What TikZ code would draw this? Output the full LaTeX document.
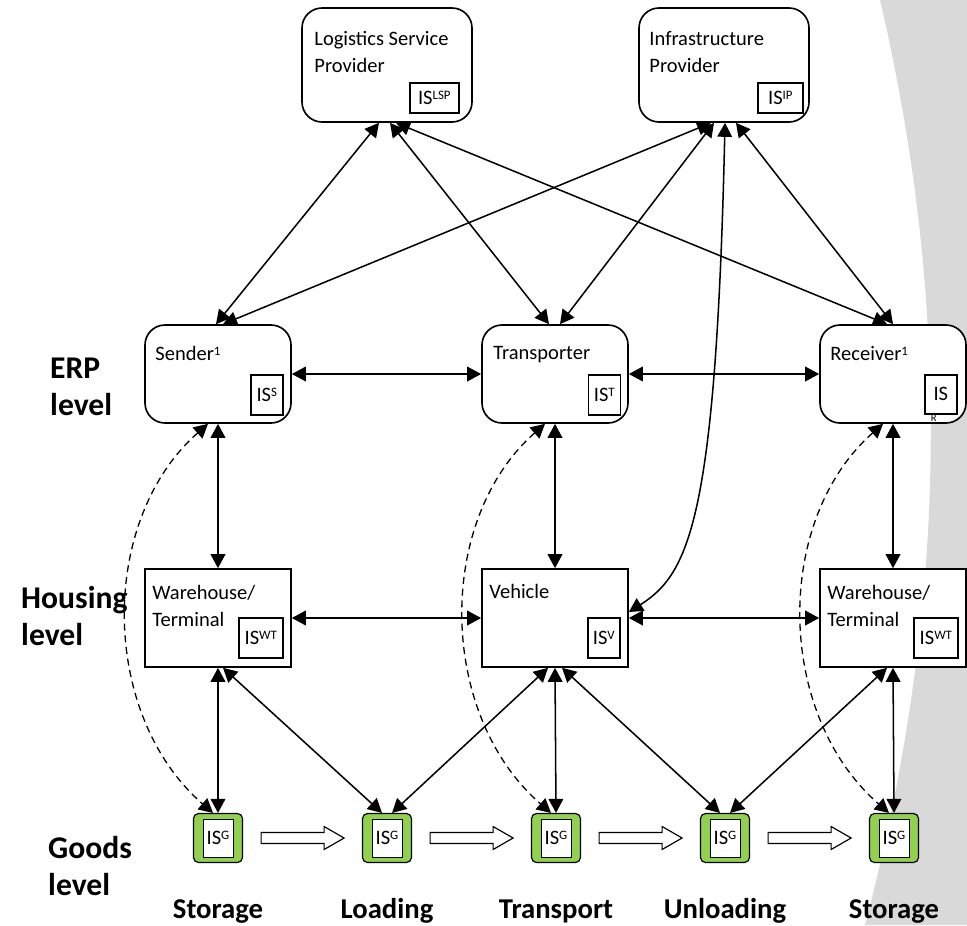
\documentclass[tikz,border=0pt]{standalone}
\usepackage{fontspec}
\setmainfont{Carlito}
\usetikzlibrary{arrows.meta,calc}
\definecolor{goodsgreen}{RGB}{146,208,80}
\definecolor{bggray}{RGB}{217,217,217}
\newcommand{\up}[1]{\raisebox{0.26em}{\fontsize{11}{12}\selectfont #1}}

\tikzset{
  roundbox/.style={draw,line width=1.4pt,rounded corners=6mm,fill=white,
    minimum width=43.8mm,minimum height=29.4mm,inner sep=0},
  topbox/.style={roundbox,minimum width=51mm,minimum height=34.2mm},
  flatbox/.style={draw,line width=1.4pt,fill=white,
    minimum width=43.8mm,minimum height=29.4mm,inner sep=0},
  boxtext/.style={anchor=north west,inner sep=0,align=left,
    font=\fontsize{17.5}{23}\selectfont},
  isbox/.style={draw,line width=1.2pt,fill=white,inner sep=0,
    font=\fontsize{17.5}{21}\selectfont},
  goods/.style={draw,line width=1pt,fill=goodsgreen,rounded corners=1.5mm,
    minimum width=14.7mm,minimum height=14.7mm,inner sep=0},
  goodsis/.style={isbox,line width=0.8pt,minimum width=9mm,minimum height=11.4mm},
  link/.style={{Triangle[length=4.2mm,width=4.4mm]}-{Triangle[length=4.2mm,width=4.4mm]},
    line width=1.3pt},
  softlink/.style={link,line width=1.1pt,dash pattern=on 6pt off 4pt},
  levellabel/.style={anchor=base west,inner sep=0,align=left,
    font=\fontsize{27}{31.5}\selectfont\bfseries},
  phase/.style={anchor=base,inner sep=0,font=\fontsize{24.5}{30}\selectfont\bfseries},
  blockarr/.style={draw,line width=1pt,fill=white}
}

\begin{document}
\begin{tikzpicture}[x=0.3mm,y=-0.3mm]
    \pgfmathsetmacro{\colstep}{169} % spacing of the goods boxes
    \useasboundingbox (0,0) rectangle (967,925);
    \fill[bggray] (880,0) .. controls (950,300) and (950,600) .. (865,925) -- (967,925) -- (967,0) -- cycle;

    % providers
    \node[topbox] (lsp) at (387,65) {};
    \node[topbox] (ip) at (724,65) {};
    \node[boxtext] (lsp-txt) at ([shift={(13,24)}]lsp.north west) {Logistics Service\\Provider};
    \node[boxtext] (ip-txt) at ([shift={(11,24)}]ip.north west) {Infrastructure\\Provider};
    \node[isbox,minimum width=14.7mm,minimum height=9mm] (lsp-is) at ([shift={(-38.5,-25)}]lsp.south east) {IS\up{LSP}};
    \node[isbox,minimum width=13.5mm,minimum height=9mm] (ip-is) at ([shift={(-29.5,-25)}]ip.south east) {IS\up{IP}};

    % ERP level
    \node[roundbox] (sender) at (218,374) {};
    \node[roundbox] (transp) at (555,374) {};
    \node[roundbox] (recv) at (893,374) {};
    \node[boxtext] (sender-txt) at ([shift={(11,22)}]sender.north west) {Sender\up{1}};
    \node[boxtext] (transp-txt) at ([shift={(12,22)}]transp.north west) {Transporter};
    \node[boxtext] (recv-txt) at ([shift={(11,22)}]recv.north west) {Receiver\up{1}};
    \node[isbox,minimum width=9.6mm,minimum height=12mm] (sender-is) at ([shift={(-25,-29)}]sender.south east) {IS\up{S}};
    \node[isbox,minimum width=9.6mm,minimum height=12mm] (transp-is) at ([shift={(-24.5,-29)}]transp.south east) {IS\up{T}};
    \node[isbox,minimum width=9.6mm,minimum height=11.7mm] (recv-is) at ([shift={(-26,-29.5)}]recv.south east) {IS};
    \node[inner sep=0,font=\fontsize{9}{10}\selectfont] (recv-r) at ([shift={(-7,4)}]recv-is.south) {R};

    % housing level
    \node[flatbox] (whl) at (218,618) {};
    \node[flatbox] (veh) at (555,618) {};
    \node[flatbox] (whr) at (893,618) {};
    \node[boxtext] (whl-txt) at ([shift={(8,17)}]whl.north west) {Warehouse/\\Terminal};
    \node[boxtext] (veh-txt) at ([shift={(8,16)}]veh.north west) {Vehicle};
    \node[boxtext] (whr-txt) at ([shift={(8,17)}]whr.north west) {Warehouse/\\Terminal};
    \node[isbox,minimum width=13.2mm,minimum height=12mm] (whl-is) at ([shift={(-31,-30)}]whl.south east) {IS\up{WT}};
    \node[isbox,minimum width=9.6mm,minimum height=12mm] (veh-is) at ([shift={(-25,-30)}]veh.south east) {IS\up{V}};
    \node[isbox,minimum width=13.2mm,minimum height=12mm] (whr-is) at ([shift={(-31,-30)}]whr.south east) {IS\up{WT}};

    % goods level
    \foreach \i in {1,...,5} {
        \node[goods] (g\i) at ({218+\colstep*(\i-1)},838) {};
        \node[goodsis] (g\i-is) at (g\i) {IS\up{G}};
    }
    \foreach \i in {1,...,4}
        \draw[blockarr] ($(g\i.east)+(18,-5.5)$) -- ++(63,0) -- ++(0,-6) -- ++(20,11.5) -- ++(-20,11.5) -- ++(0,-6) -- ++(-63,0) -- cycle;
    \foreach \i/\txt in {1/Storage,2/Loading,3/Transport,4/Unloading,5/Storage}
        \node[phase] (ph\i) at (g\i |- 0,918) {\txt};

    % base of these labels is their last line
    \node[levellabel] (erp) at (50,415) {ERP\\level};
    \node[levellabel] (housing) at (21,645) {Housing\\level};
    \node[levellabel] (goodslvl) at (48,895) {Goods\\level};

    % links between the providers and the ERP systems
    \draw[link] ($(lsp.south)+(-8,0)$) -- ($(sender.north)+(-2,0)$);
    \draw[link] ($(lsp.south)+(3,0)$) -- ($(transp.north)+(-6,0)$);
    \draw[link] ($(lsp.south)+(9,0)$) -- ($(recv.north)+(-6,0)$);
    \draw[link] ($(ip.south)+(-13,0)$) -- ($(sender.north)+(5,0)$);
    \draw[link] ($(ip.south)+(-10,0)$) -- ($(transp.north)+(5,0)$);
    \draw[link] ($(ip.south)+(12,0)$) -- (recv.north);
    \draw[link] ($(ip.south)+(1,0)$) .. controls +(-9,397) and +(60,-38) .. ($(veh.east)+(0,-6)$);

    \draw[link] (sender.east) -- (transp.west);
    \draw[link] (transp.east) -- (recv.west);
    \draw[link] (sender.south) -- (whl.north);
    \draw[link] (transp.south) -- (veh.north);
    \draw[link] (recv.south) -- (whr.north);
    \draw[link] (whl.east) -- (veh.west);
    \draw[link] (veh.east) -- (whr.west);

    % housing to goods
    \draw[link] (whl.south) -- (g1.north);
    \draw[link] ($(whl.south)+(5,0)$) -- ($(g2.north)+(-5,0)$);
    \draw[link] ($(veh.south)+(-7,0)$) -- ($(g2.north)+(5,0)$);
    \draw[link] (veh.south) -- (g3.north);
    \draw[link] ($(veh.south)+(7,0)$) -- ($(g4.north)+(-5,0)$);
    \draw[link] ($(whr.south)+(-6,0)$) -- ($(g4.north)+(5,0)$);
    \draw[link] (whr.south) -- (g5.north);

    % direct goods to ERP
    \draw[softlink] ($(sender.south)+(-10,0)$) .. controls +(-110,97) and +(-113,-98) .. ($(g1.north)+(-5,0)$);
    \draw[softlink] ($(transp.south)+(-10,0)$) .. controls +(-110,97) and +(-113,-98) .. ($(g3.north)+(-5,0)$);
    \draw[softlink] ($(recv.south)+(-10,0)$) .. controls +(-110,97) and +(-113,-98) .. ($(g5.north)+(-5,0)$);
\end{tikzpicture}
\end{document}
